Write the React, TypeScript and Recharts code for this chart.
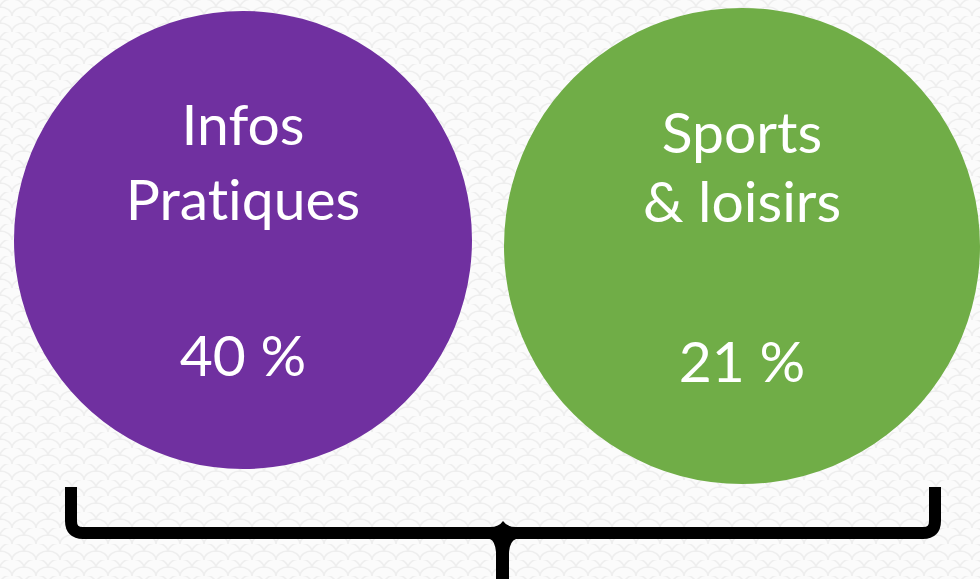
import { PieChart, Pie, Cell, Customized } from "recharts";

const categories = ["Infos Pratiques", "Sports & loisirs"];
const labelLines = [
  ["Infos", "Pratiques"],
  ["Sports", "& loisirs"],
];
const shares = [40, 21];

const colors = ["#7030A0", "#70AD47"];
const circles = [
  { cx: 243, cy: 240, r: 229, lineY: [-95, -20] },
  { cx: 742, cy: 246, r: 238, lineY: [-93, -24] },
];

const scalePattern =
  "data:image/svg+xml," +
  encodeURIComponent(
    `<svg xmlns='http://www.w3.org/2000/svg' width='24' height='16'>` +
      `<rect width='24' height='16' fill='#fbfbfb'/>` +
      `<path d='M0 8 A12 9 0 0 1 24 8 M-12 16 A12 9 0 0 1 12 16 M12 16 A12 9 0 0 1 36 16' fill='none' stroke='#eeeeee' stroke-width='1.5'/>` +
      `</svg>`
  );

function Brace() {
  return (
    <g>
      <path
        d="M71 487 V521 Q71 533 83 533 H496"
        fill="none"
        stroke="#000"
        strokeWidth={12}
      />
      <path
        d="M935 487 V521 Q935 533 923 533 H510"
        fill="none"
        stroke="#000"
        strokeWidth={12}
      />
      <path
        d="M490 527 Q499 527 503 521 Q507 527 516 527 V539 Q510 541 509 552 L509 579 H496 L496 552 Q495 541 490 539 Z"
        fill="#000"
      />
    </g>
  );
}

export default function App() {
  return (
    <div
      style={{
        position: "absolute",
        left: 0,
        top: 0,
        width: 980,
        height: 579,
        backgroundImage: `url("${scalePattern}")`,
        overflow: "hidden",
      }}
    >
      <PieChart width={980} height={579} margin={{ top: 0, right: 0, bottom: 0, left: 0 }}>
        {categories.map((name, i) => {
          const c = circles[i];
          const data = [{ name, value: shares[i] }];
          return (
            <Pie
              key={name}
              data={data}
              dataKey="value"
              nameKey="name"
              cx={c.cx}
              cy={c.cy}
              outerRadius={c.r}
              innerRadius={0}
              startAngle={90}
              endAngle={-270}
              stroke="none"
              labelLine={false}
              isAnimationActive={false}
              label={(p: any) => (
                <text
                  x={p.cx}
                  y={p.cy}
                  textAnchor="middle"
                  fill="#ffffff"
                  fontFamily="Lato, sans-serif"
                  fontSize={57}
                  style={{ fontVariantLigatures: "none", fontFeatureSettings: '"liga" 0' }}
                >
                  <tspan x={p.cx} y={p.cy + c.lineY[0]}>
                    {labelLines[i][0]}
                  </tspan>
                  <tspan x={p.cx} y={p.cy + c.lineY[1]}>
                    {labelLines[i][1]}
                  </tspan>
                  <tspan x={p.cx} y={p.cy + 136}>
                    {`${shares[i]} %`}
                  </tspan>
                </text>
              )}
            >
              <Cell fill={colors[i]} />
            </Pie>
          );
        })}
        <Customized component={Brace} />
      </PieChart>
    </div>
  );
}
